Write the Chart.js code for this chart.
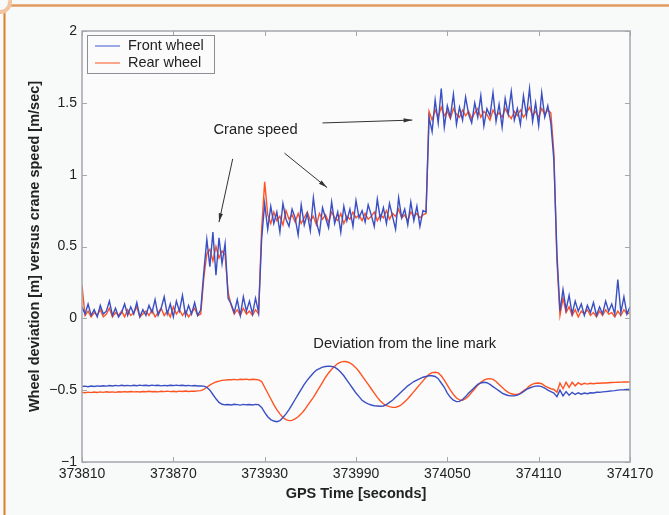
<!DOCTYPE html>
<html>
<head>
<meta charset="utf-8">
<script src="https://cdn.jsdelivr.net/npm/chart.js@4/dist/chart.umd.min.js"></script>
<style>
  html, body { margin: 0; padding: 0; background: #f8f9f9; }
  #wrap { width: 669px; height: 515px; position: relative; }
</style>
</head>
<body>
<div id="wrap"><canvas id="c" width="669" height="515"></canvas></div>
<script>
// GPS time, sampled every 2 s
const T0 = 373810, STEP = 2, N = 181;
const times = Array.from({ length: N }, (_, i) => T0 + i * STEP);
const xTicks = [373810, 373870, 373930, 373990, 374050, 374110, 374170];
const yTicks = [-1, -0.5, 0, 0.5, 1, 1.5, 2];

// crane speed as seen by each wheel [m/sec]
const speedFront = [
  0.08, 0.03, 0.10, 0.02, 0.06, 0.01, 0.09, 0.03, 0.05, 0.12, 0.02, 0.07, 0.01, 0.04, 0.10, 0.02, 0.08, 0.03, 0.11, 0.01,
  0.06, 0.02, 0.09, 0.04, 0.13, 0.02, 0.07, 0.15, 0.03, 0.10, 0.01, 0.12, 0.05, 0.16, 0.02, 0.09, 0.03, 0.11, 0.02, 0.06,
  0.32, 0.55, 0.36, 0.60, 0.30, 0.56, 0.38, 0.52, 0.14,
  0.10, 0.04, 0.13, 0.02, 0.15, 0.05, 0.12, 0.03, 0.14, 0.04,
  0.55, 0.80,
  0.62, 0.78, 0.66, 0.74, 0.60, 0.80, 0.69, 0.64, 0.76, 0.70, 0.58, 0.79, 0.65, 0.73, 0.61, 0.84, 0.67, 0.59, 0.77, 0.70,
  0.63, 0.81, 0.66, 0.74, 0.60, 0.78, 0.68, 0.76, 0.64, 0.82, 0.70, 0.75, 0.67, 0.79, 0.72, 0.64, 0.83, 0.69, 0.77, 0.66,
  0.80, 0.71, 0.62, 0.84, 0.70, 0.76, 0.65, 0.81, 0.68, 0.78, 0.64, 0.75,
  0.74, 1.40,
  1.30, 1.52, 1.36, 1.60, 1.33, 1.48, 1.40, 1.56, 1.35, 1.47, 1.38, 1.54, 1.42, 1.36, 1.50, 1.40, 1.55, 1.34, 1.46, 1.41,
  1.57, 1.37, 1.49, 1.33, 1.53, 1.42, 1.58, 1.38, 1.46, 1.35, 1.55, 1.41, 1.60, 1.37, 1.50, 1.34, 1.57, 1.40, 1.48, 1.36,
  1.10, 0.45, 0.05,
  0.20, 0.06, 0.16, 0.03, 0.12, 0.05, 0.10, 0.02, 0.09, 0.04, 0.11, 0.02, 0.08, 0.03, 0.12, 0.05, 0.10, 0.03, 0.27, 0.04,
  0.15, 0.03, 0.08
];
const speedRear = [
  0.23, 0.02, 0.05, 0.01, 0.04, 0.02, 0.06, 0.01, 0.03, 0.07, 0.01, 0.04, 0.02, 0.05, 0.01, 0.06, 0.02, 0.04, 0.08, 0.01,
  0.03, 0.05, 0.02, 0.06, 0.01, 0.04, 0.07, 0.02, 0.05, 0.01, 0.08, 0.03, 0.06, 0.02, 0.05, 0.01, 0.04, 0.07, 0.02, 0.03,
  0.28, 0.45, 0.48, 0.40, 0.50, 0.42, 0.47, 0.44, 0.18,
  0.09, 0.03, 0.06, 0.02, 0.07, 0.03, 0.05, 0.02, 0.06, 0.03,
  0.62, 0.95,
  0.72, 0.66, 0.74, 0.68, 0.71, 0.65, 0.75, 0.69, 0.72, 0.67, 0.73, 0.66, 0.70, 0.74, 0.68, 0.71, 0.65, 0.73, 0.69, 0.72,
  0.67, 0.74, 0.70, 0.68, 0.73, 0.66, 0.71, 0.69, 0.74, 0.70, 0.72, 0.68, 0.73, 0.69, 0.71, 0.74, 0.68, 0.72, 0.70, 0.75,
  0.69, 0.73, 0.71, 0.76, 0.70, 0.72, 0.68, 0.74, 0.71, 0.73, 0.70, 0.72,
  0.73, 1.44,
  1.38, 1.45, 1.40, 1.47, 1.41, 1.44, 1.39, 1.46, 1.42, 1.40, 1.45, 1.41, 1.44, 1.39, 1.43, 1.46, 1.40, 1.44, 1.42, 1.38,
  1.45, 1.41, 1.43, 1.40, 1.46, 1.42, 1.39, 1.44, 1.41, 1.45, 1.40, 1.43, 1.47, 1.41, 1.44, 1.40, 1.46, 1.42, 1.45, 1.43,
  1.15, 0.40, 0.02,
  0.14, 0.04, 0.08, 0.02, 0.06, 0.01, 0.05, 0.03, 0.06, 0.02, 0.04, 0.01, 0.05, 0.02, 0.06, 0.03, 0.04, 0.01, 0.05, 0.02,
  0.06, 0.03, 0.04
];

// wheel deviation from the line mark [m]
const devFront = [
  -0.475, -0.472, -0.476, -0.471, -0.474, -0.470, -0.473, -0.469, -0.472, -0.468, -0.471, -0.467, -0.470, -0.466, -0.469,
  -0.467, -0.470, -0.466, -0.469, -0.465, -0.468, -0.466, -0.469, -0.465, -0.468, -0.466, -0.470, -0.467, -0.469, -0.466,
  -0.468, -0.465, -0.468, -0.466, -0.469, -0.467, -0.470, -0.468, -0.471, -0.470, -0.472,
  -0.48, -0.50, -0.53, -0.56, -0.585, -0.598, -0.602,
  -0.600, -0.603, -0.598, -0.601, -0.604, -0.599, -0.602, -0.600, -0.603, -0.599, -0.601,
  -0.62, -0.655, -0.685, -0.705, -0.715, -0.72, -0.712,
  -0.69, -0.665, -0.635, -0.60, -0.565, -0.53, -0.495, -0.46, -0.43, -0.405, -0.38, -0.36, -0.35, -0.34, -0.335, -0.333, -0.335,
  -0.34, -0.355, -0.375, -0.40, -0.43, -0.46, -0.49, -0.52, -0.545, -0.57, -0.585, -0.595, -0.603, -0.608, -0.61, -0.612, -0.61, -0.60,
  -0.585, -0.57, -0.55, -0.53, -0.51, -0.49, -0.47, -0.455, -0.44, -0.43, -0.42, -0.41, -0.405, -0.40, -0.40, -0.405,
  -0.42, -0.45, -0.48, -0.52, -0.55, -0.57, -0.58, -0.578, -0.565,
  -0.545, -0.52, -0.50, -0.48, -0.46, -0.45, -0.445, -0.448,
  -0.46, -0.475, -0.49, -0.505, -0.52, -0.53, -0.537, -0.54, -0.54, -0.535,
  -0.525, -0.51, -0.495, -0.485, -0.477, -0.472, -0.47, -0.475,
  -0.485, -0.50, -0.51, -0.52, -0.545, -0.50, -0.54, -0.51, -0.535, -0.515, -0.53, -0.518, -0.528, -0.52, -0.525,
  -0.518, -0.52, -0.515, -0.515, -0.512, -0.51, -0.508, -0.505, -0.503, -0.50, -0.498, -0.497, -0.495, -0.495
];
const devRear = [
  -0.515, -0.518, -0.514, -0.517, -0.513, -0.516, -0.512, -0.515, -0.511, -0.514, -0.512, -0.515, -0.511, -0.513, -0.510,
  -0.513, -0.509, -0.512, -0.510, -0.513, -0.509, -0.511, -0.508, -0.511, -0.509, -0.512, -0.508, -0.510, -0.507, -0.510,
  -0.508, -0.511, -0.507, -0.509, -0.506, -0.509, -0.507, -0.508, -0.505, -0.503,
  -0.495, -0.48, -0.465, -0.452, -0.443, -0.437, -0.432, -0.43, -0.428,
  -0.427, -0.425, -0.428, -0.424, -0.426, -0.423, -0.427, -0.424, -0.426, -0.428,
  -0.44, -0.48, -0.52, -0.56, -0.60, -0.635, -0.665, -0.69, -0.705, -0.712, -0.71, -0.70,
  -0.685, -0.665, -0.64, -0.61, -0.58, -0.55, -0.515, -0.48, -0.445, -0.41, -0.38, -0.355, -0.333, -0.315, -0.305, -0.30, -0.302,
  -0.31, -0.325, -0.345, -0.37, -0.40, -0.43, -0.46, -0.49, -0.52, -0.55, -0.575, -0.595, -0.608, -0.615, -0.62, -0.62, -0.612,
  -0.60, -0.58, -0.56, -0.535, -0.51, -0.485, -0.46, -0.435, -0.41, -0.39, -0.378, -0.375, -0.38,
  -0.40, -0.43, -0.465, -0.50, -0.53, -0.555, -0.568, -0.57, -0.56,
  -0.54, -0.515, -0.49, -0.465, -0.445, -0.43, -0.422, -0.42, -0.425,
  -0.44, -0.46, -0.48, -0.50, -0.515, -0.525, -0.53, -0.53, -0.52,
  -0.505, -0.49, -0.47, -0.458, -0.452, -0.45, -0.455,
  -0.47, -0.48, -0.49, -0.495, -0.515, -0.45, -0.49, -0.445, -0.48, -0.445, -0.47, -0.448, -0.462, -0.452, -0.458,
  -0.452, -0.455, -0.452, -0.452, -0.45, -0.45, -0.448, -0.447, -0.446, -0.445, -0.444, -0.443, -0.443, -0.442
];

const BLUE = '#3a4fc4';
const ORANGE = '#ff5322';
const AXIS = '#a4a7ad';
const FONT = '"Liberation Sans", Arial, sans-serif';

// annotations: text + arrows, positioned in data units
const notes = [
  { text: 'Crane speed', x: 373924, y: 1.31 },
  { text: 'Deviation from the line mark', x: 374022, y: -0.175 },
];
const arrows = [
  { from: [373909, 1.11], to: [373900, 0.67] },
  { from: [373943, 1.15], to: [373971, 0.91] },
  { from: [373968, 1.36], to: [374027, 1.38] },
];

const decorPlugin = {
  id: 'decor',
  beforeDraw(chart) {
    const c = chart.ctx;
    c.save();
    c.fillStyle = '#f8f9f9';
    c.fillRect(0, 0, chart.width, chart.height);
    // orange page frame
    c.strokeStyle = '#e39a5e';
    c.lineWidth = 2.5;
    c.beginPath(); c.moveTo(10, 5.5); c.lineTo(chart.width, 5.5); c.stroke();
    c.strokeStyle = '#da7f2c';
    c.lineWidth = 2;
    c.beginPath(); c.moveTo(4.5, 10); c.lineTo(4.5, chart.height); c.stroke();
    c.strokeStyle = '#f2c4a0';
    c.lineWidth = 4;
    c.beginPath(); c.arc(0, 2, 10, -0.2, 1.9); c.stroke();
    const a = chart.chartArea;
    c.fillStyle = '#fbfbfb';
    c.fillRect(a.left, a.top, a.right - a.left, a.bottom - a.top);
    c.restore();
  },
  afterDraw(chart) {
    const c = chart.ctx, xs = chart.scales.x, ys = chart.scales.y, a = chart.chartArea;
    c.save();
    // axis box
    c.strokeStyle = AXIS;
    c.lineWidth = 1.5;
    c.strokeRect(a.left, a.top, a.right - a.left, a.bottom - a.top);
    // inward ticks on all four sides
    c.lineWidth = 1;
    c.beginPath();
    xTicks.forEach(v => {
      const px = Math.round(xs.getPixelForValue(v)) + 0.5;
      c.moveTo(px, a.bottom); c.lineTo(px, a.bottom - 5);
      c.moveTo(px, a.top); c.lineTo(px, a.top + 5);
    });
    yTicks.forEach(v => {
      const py = Math.round(ys.getPixelForValue(v)) + 0.5;
      c.moveTo(a.left, py); c.lineTo(a.left + 5, py);
      c.moveTo(a.right, py); c.lineTo(a.right - 5, py);
    });
    c.stroke();

    // notes
    c.fillStyle = '#222';
    c.font = '14.7px ' + FONT;
    c.textAlign = 'center';
    c.textBaseline = 'middle';
    notes.forEach(n => c.fillText(n.text, xs.getPixelForValue(n.x), ys.getPixelForValue(n.y)));
    // arrows
    c.strokeStyle = '#333';
    c.fillStyle = '#333';
    c.lineWidth = 1;
    arrows.forEach(ar => {
      const x1 = xs.getPixelForValue(ar.from[0]), y1 = ys.getPixelForValue(ar.from[1]);
      const x2 = xs.getPixelForValue(ar.to[0]), y2 = ys.getPixelForValue(ar.to[1]);
      const ang = Math.atan2(y2 - y1, x2 - x1);
      c.beginPath(); c.moveTo(x1, y1); c.lineTo(x2, y2); c.stroke();
      c.beginPath();
      c.moveTo(x2, y2);
      c.lineTo(x2 - 9 * Math.cos(ang - 0.24), y2 - 9 * Math.sin(ang - 0.24));
      c.lineTo(x2 - 9 * Math.cos(ang + 0.24), y2 - 9 * Math.sin(ang + 0.24));
      c.closePath(); c.fill();
    });

    // legend box
    const lx = a.left + 5, ly = a.top + 4, lw = 127, lh = 38;
    c.fillStyle = '#fbfbfb';
    c.fillRect(lx, ly, lw, lh);
    c.strokeStyle = '#8c8f94';
    c.lineWidth = 1;
    c.strokeRect(lx + 0.5, ly + 0.5, lw, lh);
    c.font = '14.5px ' + FONT;
    c.textAlign = 'left';
    chart.data.datasets.slice(0, 2).forEach((ds, i) => {
      const yy = ly + 11 + i * 17;
      c.strokeStyle = ds.legendColor;
      c.lineWidth = 1.5;
      c.beginPath(); c.moveTo(lx + 8, yy); c.lineTo(lx + 33, yy); c.stroke();
      c.fillStyle = '#222';
      c.fillText(ds.label, lx + 41, yy);
    });
    c.restore();
  }
};

const line = (label, data, color, legendColor) => ({
  label, data, borderColor: color, legendColor,
  borderWidth: 1.4, pointRadius: 0, tension: 0, fill: false,
});

new Chart(document.getElementById('c'), {
  type: 'line',
  data: {
    labels: times,
    datasets: [
      line('Front wheel', speedFront, BLUE, '#7d8ee0'),
      line('Rear wheel', speedRear, ORANGE, '#fb8a66'),
      line('Front wheel deviation', devFront, BLUE, '#7d8ee0'),
      line('Rear wheel deviation', devRear, ORANGE, '#fb8a66'),
    ],
  },
  options: {
    responsive: false,
    animation: false,
    layout: { padding: { top: 31, right: 39, left: 26, bottom: 12 } },
    plugins: { legend: { display: false }, tooltip: { enabled: false } },
    scales: {
      x: {
        type: 'linear', min: 373810, max: 374170,
        afterBuildTicks: (s) => { s.ticks = xTicks.map(v => ({ value: v })); },
        afterFit: (s) => { s.height = 41; },
        grid: { display: false, drawTicks: false },
        border: { display: false },
        ticks: { color: '#222', font: { family: FONT, size: 14 }, padding: 4, maxRotation: 0, callback: v => String(v) },
        title: { display: true, text: 'GPS Time [seconds]', color: '#222', font: { family: FONT, size: 14.5, weight: 'bold' }, padding: { top: 0, bottom: 0 } },
      },
      y: {
        min: -1, max: 2,
        afterBuildTicks: (s) => { s.ticks = yTicks.map(v => ({ value: v })); },
        afterFit: (s) => { s.width = 56; },
        grid: { display: false, drawTicks: false },
        border: { display: false },
        ticks: { color: '#222', font: { family: FONT, size: 14 }, padding: 5, callback: v => v < 0 ? '\u2212' + Math.abs(v) : String(v) },
        title: { display: true, text: 'Wheel deviation [m] versus crane speed [m/sec]', color: '#222', font: { family: FONT, size: 14.5, weight: 'bold' }, padding: { top: 0, bottom: 0 } },
      },
    },
  },
  plugins: [decorPlugin],
});
</script>
</body>
</html>
